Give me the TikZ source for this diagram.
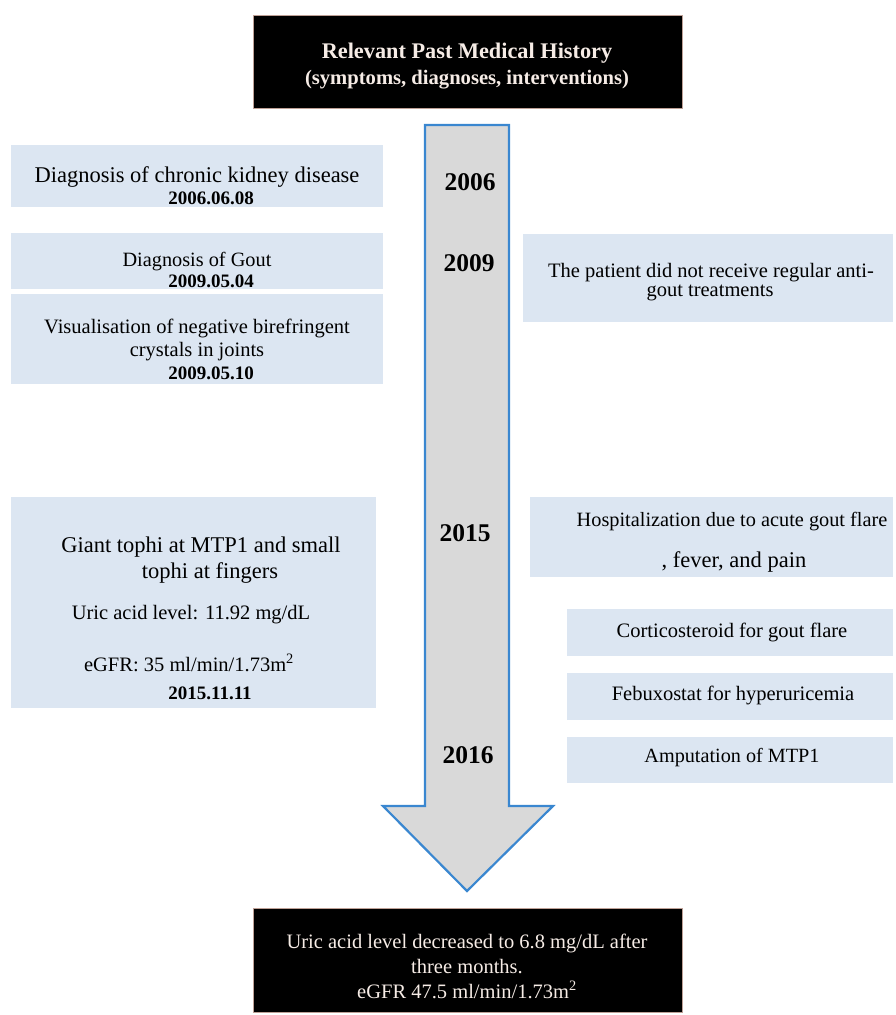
\documentclass[tikz,border=0pt]{standalone}
\usepackage{fontspec}
\setmainfont{Liberation Serif}
\definecolor{boxblue}{RGB}{220,230,242}
\definecolor{arrowgray}{RGB}{217,217,217}
\definecolor{arrowblue}{RGB}{58,135,208}
\definecolor{lighttext}{RGB}{246,236,230}
\definecolor{blackedge}{RGB}{190,160,150}
\newcommand{\fz}[1]{\fontsize{#1}{#1}\selectfont}
\begin{document}
\begin{tikzpicture}[x=1pt,y=-1pt,
  bluebox/.style={fill=boxblue, draw=none, inner sep=0pt, anchor=north west},
  blackbox/.style={fill=black, draw=blackedge, line width=0.6pt, inner sep=0pt, anchor=north west},
  txt/.style={inner sep=0pt, text=black, font=\fz{20.5}},
  bigtxt/.style={inner sep=0pt, text=black, font=\fz{22.5}},
  datetxt/.style={inner sep=0pt, text=black, font=\fz{19}\bfseries},
  yeartxt/.style={inner sep=0pt, text=black, font=\fz{25.5}\bfseries},
  wtxt/.style={inner sep=0pt, text=lighttext, font=\fz{20.5}},
  timeline/.style={draw=arrowblue, line width=2.2pt, fill=arrowgray, line join=miter}
]
\useasboundingbox (0,0) rectangle (895,1015);

% header
\node[blackbox, minimum width=429pt, minimum height=93pt] (top) at (253,15) {};
\node[wtxt, font=\fz{22.3}\bfseries] (t1) at (467,53) {Relevant Past Medical History};
\node[wtxt, font=\fz{20.6}\bfseries] (t2) at (467,80) {(symptoms, diagnoses, interventions)};

% timeline arrow
\draw[timeline] (425,125) -- (509,125) -- (509,806) -- (553,806) -- (467,891) -- (383,806) -- (425,806) -- cycle;

% years
\node[yeartxt] (y2006) at (470,182) {2006};
\node[yeartxt] (y2009) at (469,263) {2009};
\node[yeartxt] (y2015) at (465,533) {2015};
\node[yeartxt] (y2016) at (468,755) {2016};

% left boxes
\node[bluebox, minimum width=372pt, minimum height=62pt] (l1) at (11,145) {};
\node[bigtxt] (l1a) at (197,177) {Diagnosis of chronic kidney disease};
\node[datetxt] (l1b) at (211,198) {2006.06.08};

\node[bluebox, minimum width=372pt, minimum height=56pt] (l2) at (11,233) {};
\node[txt, font=\fz{20.3}] (l2a) at (197,262) {Diagnosis of Gout};
\node[datetxt] (l2b) at (211,281) {2009.05.04};

\node[bluebox, minimum width=372pt, minimum height=90pt] (l3) at (11,294) {};
\node[txt] (l3a) at (197,328) {Visualisation of negative birefringent};
\node[txt] (l3b) at (197,352) {crystals in joints};
\node[datetxt] (l3c) at (211,373) {2009.05.10};

\node[bluebox, minimum width=365pt, minimum height=211pt] (l4) at (11,497) {};
\node[bigtxt] (l4a) at (201,547) {Giant tophi at MTP1 and small};
\node[bigtxt] (l4b) at (210,573) {tophi at fingers};
\node[txt] (l4c) at (191,615) {Uric acid level: 11.92 mg/dL};
\node[txt] (l4d) at (189,663) {eGFR: 35 ml/min/1.73m\textsuperscript{2}};
\node[datetxt] (l4e) at (210,693) {2015.11.11};

% right boxes
\node[bluebox, minimum width=370pt, minimum height=88pt] (r1) at (523,234) {};
\node[txt] (r1a) at (711,273) {The patient did not receive regular anti-};
\node[txt] (r1b) at (710,293) {gout treatments};

\node[bluebox, minimum width=363pt, minimum height=80pt] (r2) at (530,497) {};
\node[txt, font=\fz{20.3}] (r2a) at (732,522) {Hospitalization due to acute gout flare};
\node[bigtxt] (r2b) at (734,562) {, fever, and pain};

\node[bluebox, minimum width=326pt, minimum height=47pt] (r3) at (567,609) {};
\node[txt] (r3a) at (732,632) {Corticosteroid for gout flare};

\node[bluebox, minimum width=326pt, minimum height=47pt] (r4) at (567,673) {};
\node[txt] (r4a) at (733,695) {Febuxostat for hyperuricemia};

\node[bluebox, minimum width=326pt, minimum height=46pt] (r5) at (567,737) {};
\node[txt, font=\fz{20.2}] (r5a) at (732,758) {Amputation of MTP1};

% outcome
\node[blackbox, minimum width=429pt, minimum height=104pt] (bot) at (253,908) {};
\node[wtxt] (b1) at (467,943) {Uric acid level decreased to 6.8 mg/dL after};
\node[wtxt] (b2) at (467,967) {three months.};
\node[wtxt] (b3) at (467,990) {eGFR 47.5 ml/min/1.73m\textsuperscript{2}};
\end{tikzpicture}
\end{document}
